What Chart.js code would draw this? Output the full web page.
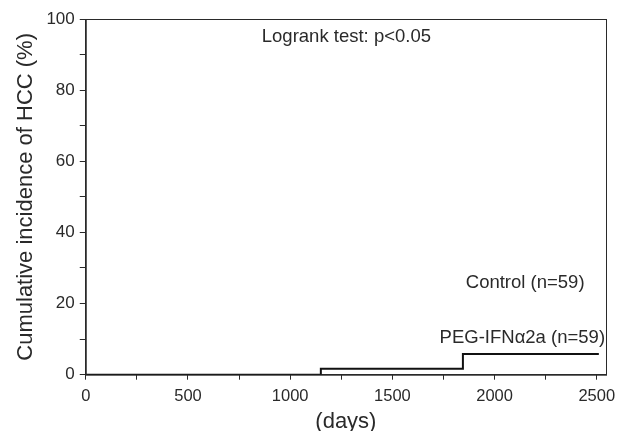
<!DOCTYPE html>
<html>
<head>
<meta charset="utf-8">
<script src="https://cdn.jsdelivr.net/npm/chart.js@4/dist/chart.umd.min.js"></script>
<style>
  html, body { margin: 0; padding: 0; background: #fff; }
  #wrap { width: 619px; height: 431px; }
</style>
</head>
<body>
<div id="wrap"><canvas id="hcc"></canvas></div>
<script>
// Step points of the cumulative incidence curve (days, %)
const pegDays = [0, 1150, 1150, 1845, 1845, 2510];
const pegIncidence = [0, 0, 1.7, 1.7, 5.8, 5.8];

const xTickLabels = [0, 500, 1000, 1500, 2000, 2500];
const yTickLabels = [0, 20, 40, 60, 80, 100];

const ink = '#2a2a2a';
const fontFamily = '"Liberation Sans", Arial, Helvetica, sans-serif';

// labels drawn inside the plot: text, x (days), y (%), alignment
const notes = [
  { text: 'Logrank test: p<0.05', x: 1275, y: 94.9, align: 'center' },
  { text: 'Control (n=59)', x: 1859, y: 25.9, align: 'left' },
  { text: 'PEG-IFN\u03b12a (n=59)', x: 1731, y: 10.4, align: 'left' }
];

const framePlugin = {
  id: 'frame',
  afterDraw(chart) {
    const { ctx, chartArea: a, scales } = chart;
    ctx.save();
    ctx.strokeStyle = ink;
    ctx.lineWidth = 1;
    ctx.strokeRect(a.left + 0.5, a.top + 0.5, a.right - a.left, a.bottom - a.top);
    ctx.fillStyle = ink;
    ctx.font = '18.5px ' + fontFamily;
    ctx.textBaseline = 'middle';
    notes.forEach(n => {
      ctx.textAlign = n.align;
      ctx.fillText(n.text, scales.x.getPixelForValue(n.x), scales.y.getPixelForValue(n.y));
    });
    ctx.restore();
  }
};

new Chart(document.getElementById('hcc'), {
  type: 'scatter',
  data: {
    datasets: [{
      label: 'PEG-IFN\u03b12a',
      data: pegDays.map((d, i) => ({ x: d, y: pegIncidence[i] })),
      showLine: true,
      borderColor: '#111',
      borderWidth: 2,
      pointRadius: 0,
      fill: false
    }]
  },
  options: {
    responsive: true,
    maintainAspectRatio: false,
    animation: false,
    layout: { padding: { top: 19, right: 13, left: 13, bottom: 1 } },
    plugins: { legend: { display: false }, tooltip: { enabled: false } },
    scales: {
      x: {
        type: 'linear',
        min: 0,
        max: 2545,
        border: { color: ink, width: 1 },
        grid: { drawOnChartArea: false, drawTicks: true, tickLength: 5, color: ink },
        ticks: {
          stepSize: 250,
          autoSkip: false,
          maxRotation: 0,
          color: ink,
          font: { family: fontFamily, size: 16.5 },
          padding: 7,
          callback: v => xTickLabels.includes(v) ? String(v) : ''
        },
        afterBuildTicks: axis => {
          axis.ticks = [];
          for (let v = 0; v <= 2500; v += 250) axis.ticks.push({ value: v });
        },
        // the last label sits inside the axis end, so no extra room is needed
        afterFit: axis => {
          axis.paddingRight = 0;
          axis.paddingLeft = 0;
        },
        title: {
          display: true,
          text: '(days)',
          color: ink,
          font: { family: fontFamily, size: 22, lineHeight: 0.75 },
          padding: { top: 0, bottom: 0 }
        }
      },
      y: {
        min: 0,
        max: 100,
        border: { color: ink, width: 1 },
        grid: { drawOnChartArea: false, drawTicks: true, tickLength: 6, color: ink },
        ticks: {
          stepSize: 10,
          autoSkip: false,
          color: ink,
          font: { family: fontFamily, size: 17 },
          padding: 5,
          callback: v => yTickLabels.includes(v) ? String(v) : ''
        },
        title: {
          display: true,
          text: 'Cumulative incidence of HCC (%)',
          color: ink,
          font: { family: fontFamily, size: 22 },
          padding: { top: 0, bottom: 2 }
        }
      }
    }
  },
  plugins: [framePlugin]
});
</script>
</body>
</html>
